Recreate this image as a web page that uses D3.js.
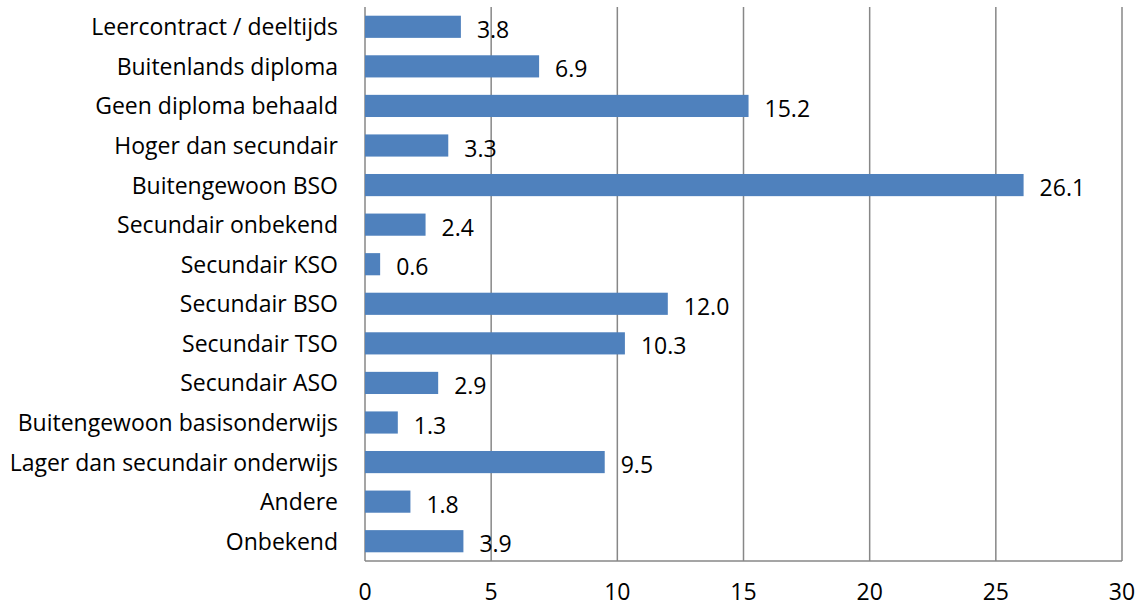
<!DOCTYPE html>
<html>
<head>
<meta charset="utf-8">
<title>diploma-bars</title>
<style>
body { margin: 0; background: #fff; font-family: "Open Sans", sans-serif; }
.bar { fill: #4f81bd; }
.grid line { stroke: #878787; stroke-width: 1.5; }
.lbl { font-size: 23px; fill: #000; }
</style>
</head>
<body>
<script src="https://cdn.jsdelivr.net/npm/d3@7"></script>
<script>
var categories = ["Leercontract / deeltijds", "Buitenlands diploma", "Geen diploma behaald",
  "Hoger dan secundair", "Buitengewoon BSO", "Secundair onbekend", "Secundair KSO",
  "Secundair BSO", "Secundair TSO", "Secundair ASO", "Buitengewoon basisonderwijs",
  "Lager dan secundair onderwijs", "Andere", "Onbekend"];
var values = [3.8, 6.9, 15.2, 3.3, 26.1, 2.4, 0.6, 12.0, 10.3, 2.9, 1.3, 9.5, 1.8, 3.9];
var xTicks = [0, 5, 10, 15, 20, 25, 30];

var W = 1143, H = 607;
var margin = { top: 7, right: 21, bottom: 46, left: 365 };
var width = W - margin.left - margin.right,
    height = H - margin.top - margin.bottom;

var svg = d3.select("body").append("svg")
    .attr("width", W).attr("height", H)
  .append("g")
    .attr("transform", "translate(" + margin.left + "," + margin.top + ")");

var x = d3.scaleLinear().domain([0, 30]).range([0, width]);
var y = d3.scaleBand().domain(categories).range([0, height]).paddingInner(0.44).paddingOuter(0.22);

// vertical gridlines (incl. the 0 line and the right edge)
svg.append("g").attr("class", "grid")
  .selectAll("line").data(xTicks).enter().append("line")
    .attr("x1", function (d) { return x(d); }).attr("x2", function (d) { return x(d); })
    .attr("y1", 0).attr("y2", height);

// bottom axis line + tick labels
svg.append("g").attr("class", "grid").append("line")
    .attr("x1", 0).attr("x2", width).attr("y1", height).attr("y2", height);

svg.selectAll(".tick-lbl").data(xTicks).enter().append("text")
    .attr("class", "lbl")
    .attr("x", function (d) { return x(d); })
    .attr("y", height + 39)
    .attr("text-anchor", "middle")
    .text(function (d) { return d; });

svg.selectAll(".bar").data(values).enter().append("rect")
    .attr("class", "bar")
    .attr("x", x(0))
    .attr("y", function (d, i) { return y(categories[i]); })
    .attr("width", function (d) { return x(d) - x(0); })
    .attr("height", y.bandwidth());

// category labels
svg.selectAll(".cat").data(categories).enter().append("text")
    .attr("class", "lbl")
    .attr("x", -27)
    .attr("y", function (d) { return y(d) + y.bandwidth() / 2 + 8.5; })
    .attr("text-anchor", "end")
    .text(function (d) { return d; });

// value labels
svg.selectAll(".val").data(values).enter().append("text")
    .attr("class", "lbl")
    .attr("x", function (d) { return x(d) + 16; })
    .attr("y", function (d, i) { return y(categories[i]) + y.bandwidth() / 2 + 11; })
    .text(function (d) { return d.toFixed(1); });
</script>
</body>
</html>
